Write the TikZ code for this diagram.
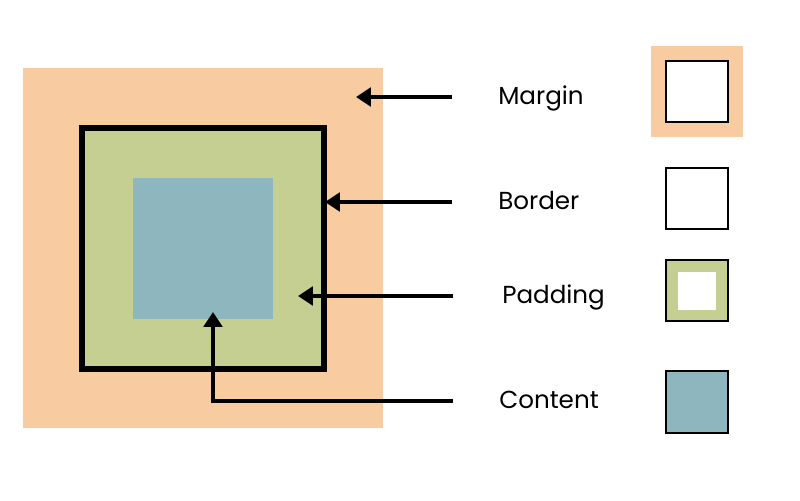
\documentclass[tikz,border=0pt]{standalone}
\usepackage{fontspec}
\setmainfont{Poppins}
\usetikzlibrary{arrows.meta,positioning}
\definecolor{marginc}{HTML}{F8CBA0}
\definecolor{paddingc}{HTML}{C5CF91}
\definecolor{contentc}{HTML}{8DB6BF}
\tikzset{
  lbl/.style={anchor=base west,inner sep=0pt,font=\fontsize{17.5}{19}\selectfont},
  pointer/.style={-{Triangle[length=10.5pt,width=13pt]},line width=2.8pt},
  keybox/.style={draw=black,line width=2.1pt},
}
\begin{document}
\begin{tikzpicture}[x=0.025cm,y=-0.025cm]
  \useasboundingbox (0,0) rectangle (800,500);

  % box model
  \fill[marginc] (23,68) rectangle (383,428);
  \filldraw[fill=paddingc,draw=black,line width=4.25pt] (82,128) rectangle (324,369);
  \fill[contentc] (133,178) rectangle (273,319);

  % labels
  \node[lbl] (lmargin) at (498,104) {Margin};
  \node[lbl] (lborder) at (498,209) {Border};
  \node[lbl] (lpadding) at (502,303) {Padding};
  \node[lbl] (lcontent) at (499,408) {Content};

  % arrow ends
  \coordinate (smargin) at (452,97);
  \coordinate (sborder) at (452,202);
  \coordinate (spadding) at (453,296);
  \coordinate (scontent) at (453,401);
  \coordinate (tmargin) at (356,97);
  \coordinate (tborder) at (325,202);
  \coordinate (tpadding) at (298,296);
  \coordinate (tcontent) at (213,312);

  \draw[pointer] (smargin) -- (tmargin);
  \draw[pointer] (sborder) -- (tborder);
  \draw[pointer] (spadding) -- (tpadding);
  \draw[pointer] (scontent) -| (tcontent);

  % legend
  \fill[marginc] (651,46) rectangle (743,137);
  \filldraw[keybox,fill=white] (666,61) rectangle (728,122);
  \filldraw[keybox,fill=white] (666,168) rectangle (728,229);
  \filldraw[keybox,fill=paddingc] (666,260) rectangle (728,321);
  \fill[white] (678,272) rectangle (716,310);
  \filldraw[keybox,fill=contentc] (666,371) rectangle (728,433);
\end{tikzpicture}
\end{document}
